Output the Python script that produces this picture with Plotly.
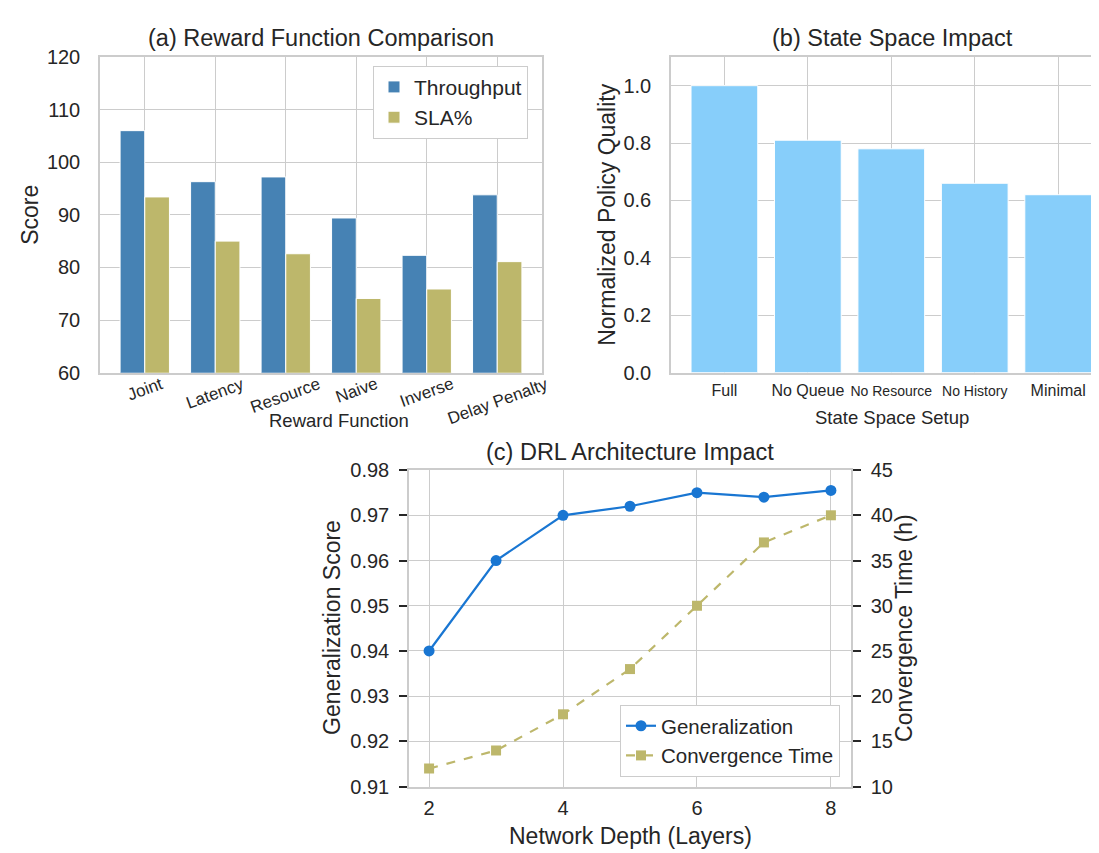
import plotly.graph_objects as go

# ---------------- data ----------------
reward_funcs = ["Joint", "Latency", "Resource", "Naive", "Inverse", "Delay Penalty"]
throughput = [106.0, 96.3, 97.2, 89.4, 82.3, 93.8]
sla = [93.4, 85.0, 82.6, 74.1, 75.9, 81.1]

state_setups = ["Full", "No Queue", "No Resource", "No History", "Minimal"]
state_ticktext = ["Full", "No Queue", "<span style='font-size:14px'>No Resource</span>",
                  "<span style='font-size:14px'>No History</span>", "Minimal"]
policy_quality = [1.00, 0.81, 0.78, 0.66, 0.62]

depths = [2, 3, 4, 5, 6, 7, 8]
generalization = [0.940, 0.960, 0.970, 0.972, 0.975, 0.974, 0.9755]
conv_time = [12, 14, 18, 23, 30, 37, 40]

# ---------------- style ----------------
W, H = 1099, 853
FONT = "Arial, 'Liberation Sans', sans-serif"
TXT = "#262626"
GRID = "#cccccc"
C_TP = "#4682B4"
C_SLA = "#BDB76B"
C_B = "#87CEFA"
C_GEN = "#1976D2"
C_CONV = "#BDB76B"
TICK = 20
TITLE = 23.5
LABEL = 23


def px(x):
    return x / W


def py(y):
    return 1 - y / H


fig = go.Figure()

# (a)
fig.add_trace(go.Bar(x=reward_funcs, y=throughput, name="Throughput",
                     marker=dict(color=C_TP, line=dict(color="white", width=1)),
                     xaxis="x", yaxis="y", legend="legend"))
fig.add_trace(go.Bar(x=reward_funcs, y=sla, name="SLA%",
                     marker=dict(color=C_SLA, line=dict(color="white", width=1)),
                     xaxis="x", yaxis="y", legend="legend"))
# (b)
fig.add_trace(go.Bar(x=state_setups, y=policy_quality, name="Policy", showlegend=False, width=0.8,
                     marker=dict(color=C_B, line=dict(color="white", width=1)), xaxis="x2", yaxis="y2"))
# (c)
fig.add_trace(go.Scatter(x=depths, y=generalization, name="Generalization", mode="lines+markers",
                         line=dict(color=C_GEN, width=2.2), marker=dict(symbol="circle", size=11, color=C_GEN),
                         xaxis="x3", yaxis="y3", legend="legend2"))
fig.add_trace(go.Scatter(x=depths, y=conv_time, name="Convergence Time", mode="lines+markers",
                         line=dict(color=C_CONV, width=2.2, dash="dash"),
                         marker=dict(symbol="square", size=10, color=C_CONV),
                         xaxis="x3", yaxis="y4", legend="legend2"))

axis_common = dict(showline=True, linecolor=GRID, linewidth=1.5, mirror=True, showgrid=True,
                   gridcolor=GRID, gridwidth=1, zeroline=False,
                   tickfont=dict(size=TICK, color=TXT, family=FONT))

fig.update_layout(
    width=W, height=H, margin=dict(l=0, r=0, t=0, b=0),
    paper_bgcolor="white", plot_bgcolor="white",
    font=dict(family=FONT, color=TXT),
    barmode="group", bargap=0.3, bargroupgap=0.0,
    xaxis=dict(axis_common, domain=[px(92), px(534)], anchor="y", type="category",
               range=[-0.635, 5.635], showticklabels=False, ticks=""),
    yaxis=dict(axis_common, domain=[py(363), py(39)], anchor="x", range=[60, 120], dtick=10,
               ticks="", ticklabelstandoff=14),
    xaxis2=dict(axis_common, domain=[px(663), 1.0], anchor="y2", type="category",
                range=[-0.64, 4.585], tickvals=state_setups, ticktext=state_ticktext, ticks="",
                tickfont=dict(size=16, color=TXT, family=FONT), ticklabelstandoff=2),
    yaxis2=dict(axis_common, domain=[py(363), py(39)], anchor="x2", range=[0, 1.1], mirror=False,
                tickvals=[0, 0.2, 0.4, 0.6, 0.8, 1.0], tickformat=".1f", ticks="", ticklabelstandoff=14),
    xaxis3=dict(axis_common, domain=[px(401), px(843)], anchor="y3", range=[1.7, 8.3],
                tickvals=[2, 4, 6, 8], ticks="", ticklabelstandoff=3),
    yaxis3=dict(axis_common, domain=[py(788), py(463)], anchor="x3", range=[0.91, 0.98],
                dtick=0.01, tickformat=".2f", ticks="outside", ticklen=8, tickwidth=1.8, tickcolor=TXT,
                mirror=False, ticklabelstandoff=6),
    yaxis4=dict(axis_common, anchor="x3", overlaying="y3", side="right", range=[10, 45], dtick=5,
                showgrid=False, ticks="outside", ticklen=8, tickwidth=1.8, tickcolor=TXT, mirror=False,
                ticklabelstandoff=6),
    legend=dict(x=px(520), xanchor="right", y=py(48), yanchor="top", bgcolor="white",
                bordercolor=GRID, borderwidth=1, font=dict(size=21, color=TXT, family=FONT)),
    legend2=dict(x=px(832), xanchor="right", y=py(778), yanchor="bottom", bgcolor="white",
                 bordercolor=GRID, borderwidth=1, font=dict(size=20.5, color=TXT, family=FONT)),
)

ann = []


def text(t, x, y, size, angle=0, xanchor="center", yanchor="middle"):
    ann.append(dict(text=t, x=px(x), y=py(y), xref="paper", yref="paper", showarrow=False,
                    font=dict(size=size, color=TXT, family=FONT), textangle=angle,
                    xanchor=xanchor, yanchor=yanchor))


text("(a) Reward Function Comparison", 313, 20, TITLE)
text("(b) State Space Impact", 884, 20, TITLE)
text("(c) DRL Architecture Impact", 622, 444, TITLE)
text("Score", 22, 201, LABEL, angle=-90)
text("Reward Function", 331, 412, 18.5)
text("Normalized Policy Quality", 599, 201, LABEL, angle=-90)
text("State Space Setup", 884, 409, 18.5)
text("Generalization Score", 324, 625, LABEL, angle=-90)
text("Convergence Time (h)", 896, 625, LABEL, angle=-90)
text("Network Depth (Layers)", 622, 839, LABEL)

# rotated category labels for (a), placed on the x scale
for cat in reward_funcs:
    ann.append(dict(text=cat, x=cat, xref="x", y=py(362), yref="paper", showarrow=False,
                    textangle=-20, xanchor="center", yanchor="top",
                    font=dict(size=17, color=TXT, family=FONT)))

fig.update_layout(annotations=ann)
fig.write_html("out.html")
